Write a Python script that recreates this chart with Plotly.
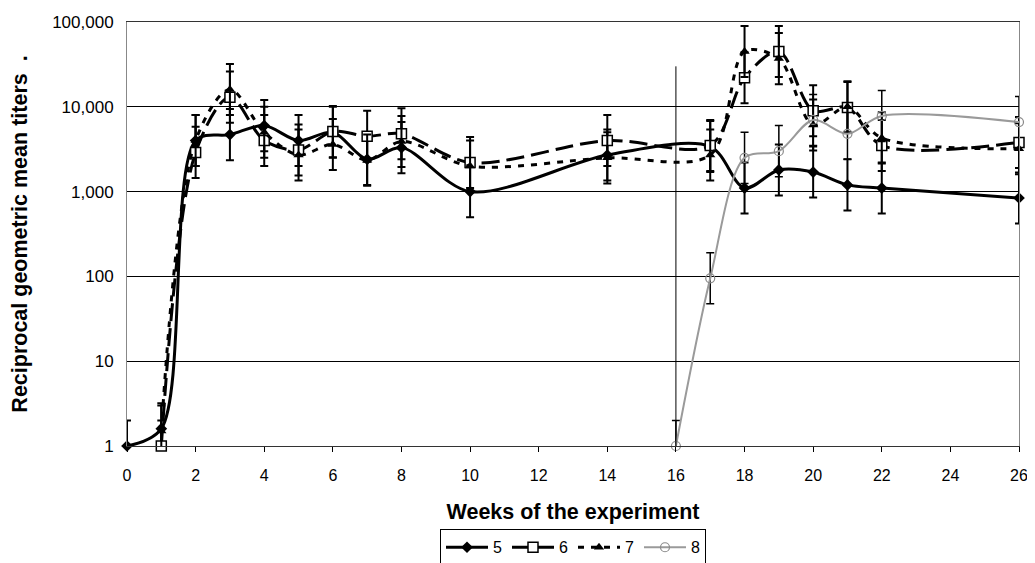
import plotly.graph_objects as go

# ---- data ----
weeks5 = [0, 1, 2, 3, 4, 5, 6, 7, 8, 10, 14, 17, 18, 19, 20, 21, 22, 26]
s5 = [1, 1.6, 4000, 4700, 6000, 4000, 5000, 2400, 3300, 1000, 2700, 3400, 1100, 1800, 1700, 1200, 1100, 840]
weeks67 = [1, 2, 3, 4, 5, 6, 7, 8, 10, 14, 17, 18, 19, 20, 21, 22, 26]
s6 = [1, 2900, 13000, 4000, 3100, 5100, 4500, 4800, 2200, 4000, 3500, 22000, 45000, 9000, 9800, 3500, 3800]
s7 = [1.5, 4000, 16000, 5000, 2700, 3600, 2350, 3900, 2000, 2500, 2700, 45000, 37000, 6100, 10000, 4300, 3200]
weeks8 = [16, 17, 18, 19, 20, 21, 22, 26]
s8 = [1, 95, 2500, 3000, 7000, 4800, 7800, 6600]
err_factor = 2  # geometric error bars (x2 / ÷2)

x_ticks = list(range(0, 27, 2))
y_ticks = [1, 10, 100, 1000, 10000, 100000]
y_ticktext = ["1", "10", "100", "1,000", "10,000", "100,000"]
marker_line_week = 16
marker_line_top = 30000

FONT = "Liberation Sans, Arial, sans-serif"


def errs(vals):
    up = [v * err_factor - v for v in vals]
    dn = [v - v / err_factor for v in vals]
    return up, dn


fig = go.Figure()


def add_series(name, x, y, line, marker, ethick=2):
    up, dn = errs(y)
    fig.add_trace(go.Scatter(
        x=x, y=y, name=name, mode="lines+markers",
        line=dict(shape="spline", smoothing=0.9, **line),
        marker=marker,
        error_y=dict(type="data", array=up, arrayminus=dn, symmetric=False,
                     color="black", thickness=ethick, width=4),
        cliponaxis=False,
    ))


add_series("5", weeks5, s5,
           dict(color="black", width=3),
           dict(symbol="diamond", size=9, color="black"))
add_series("6", weeks67, s6,
           dict(color="black", width=3, dash="18px,7px"),
           dict(symbol="square", size=10, color="white", line=dict(color="black", width=1.5)))
add_series("7", weeks67, s7,
           dict(color="black", width=3, dash="6px,7px"),
           dict(symbol="triangle-up", size=9, color="black"))
add_series("8", weeks8, s8,
           dict(color="#9a9a9a", width=2),
           dict(symbol="circle-open", size=9, color="#8a8a8a", line=dict(width=1.2)),
           ethick=1.5)

fig.add_shape(type="line", xref="x", yref="y",
              x0=marker_line_week, x1=marker_line_week,
              y0=1, y1=marker_line_top, line=dict(color="black", width=1))

# page body adds an 8px offset; margins compensate so the plot area sits at (127..1019, 22..446)
fig.update_layout(
    width=1035, height=563,
    margin=dict(l=119, r=24, t=14, b=125),
    paper_bgcolor="white", plot_bgcolor="white",
    font=dict(family=FONT, color="black", size=16),
    showlegend=True,
    legend=dict(orientation="h", x=0.5, xanchor="center",
                yref="container", y=0.074, yanchor="top",
                bordercolor="black", borderwidth=1, font=dict(size=16),
                itemwidth=42, tracegroupgap=0),
)
fig.update_xaxes(
    range=[0, 26], tickvals=x_ticks, ticks="outside", ticklen=5, tickcolor="black",
    tickfont=dict(size=16, family=FONT), showgrid=False, zeroline=False,
    showline=True, linecolor="#333", linewidth=1, mirror=True,
    title=dict(text="<b>Weeks of the experiment</b>", font=dict(size=21.5), standoff=20),
    ticklabelstandoff=10, automargin=False,
    tickprefix="<b>", ticksuffix="</b>",
)
fig.update_yaxes(
    type="log", range=[0, 5], tickvals=y_ticks, ticktext=y_ticktext,
    tickfont=dict(size=17, family=FONT), ticks="",
    showgrid=True, gridcolor="black", gridwidth=1, zeroline=False,
    showline=True, linecolor="#888", linewidth=1, mirror=True,
    title=dict(text="<b>Reciprocal geometric mean titers  .</b>", font=dict(size=21.5), standoff=26),
    ticklabelstandoff=9, automargin=False,
)

fig.write_html("out.html")
